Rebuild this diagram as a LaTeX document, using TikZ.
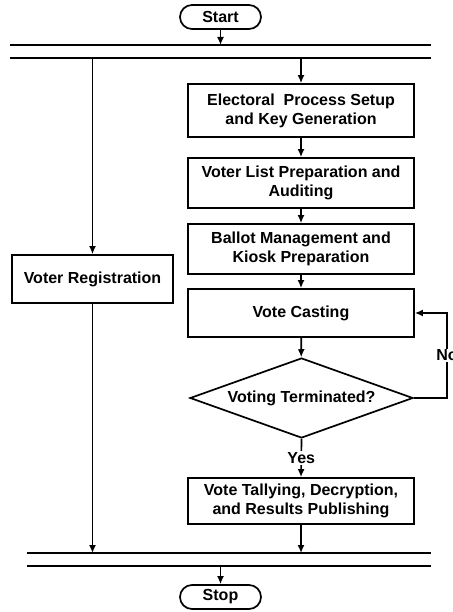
\documentclass[tikz,border=0pt]{standalone}
\usepackage{fontspec}
\setmainfont{Liberation Sans}
\usetikzlibrary{arrows.meta,shapes.geometric}
\begin{document}
\begin{tikzpicture}[x=1pt,y=-1pt,
  font=\fontsize{16}{19}\selectfont\bfseries,
  line width=1.7pt,
  flow/.style={-{Latex[length=8pt,width=7pt]}},
  stepbox/.style={draw,rectangle,align=center,inner sep=2pt,minimum width=226pt},
  terminal/.style={draw,rectangle,rounded corners=12pt,minimum width=81pt,minimum height=24pt,inner sep=0pt},
  decision/.style={draw,diamond,aspect=2.8,minimum width=223pt,minimum height=80pt,inner sep=0pt},
  bar/.style={line width=1.9pt},
  lbl/.style={fill=white,inner sep=1pt}]
\useasboundingbox (0,0) rectangle (452,612);
\clip (0,0) rectangle (452,612);

% terminals
\node[terminal] (start) at (220.5,17) {Start};
\node[terminal] (stop) at (220.5,597) {Stop};

% fork and join bars
\coordinate (f1l) at (10,45);  \coordinate (f1r) at (431,45);
\coordinate (f2l) at (10,58);  \coordinate (f2r) at (431,58);
\coordinate (j1l) at (27,553); \coordinate (j1r) at (431,553);
\coordinate (j2l) at (27,566); \coordinate (j2r) at (431,566);
\draw[bar] (f1l) -- (f1r);
\draw[bar] (f2l) -- (f2r);
\draw[bar] (j1l) -- (j1r);
\draw[bar] (j2l) -- (j2r);

% left branch
\node[stepbox,minimum width=161pt,minimum height=48pt] (reg) at (92.5,279) {Voter Registration};

% right branch
\node[stepbox,minimum height=53pt] (setup) at (301,110.5) {Electoral\ \ Process Setup\\and Key Generation};
\node[stepbox,minimum height=50pt] (list) at (301,183) {Voter List Preparation and\\Auditing};
\node[stepbox,minimum height=50pt] (ballot) at (301,249) {Ballot Management and\\Kiosk Preparation};
\node[stepbox,minimum height=48pt] (cast) at (301,313) {Vote Casting};
\node[decision] (term) at (301.5,398) {Voting Terminated?};
\node[stepbox,minimum height=46pt] (tally) at (301,501) {Vote Tallying, Decryption,\\and Results Publishing};

% loop-back corner
\coordinate (loopb) at (447,398);
\coordinate (loopt) at (447,313);

% connectors
\draw[flow] (start.south) -- (start.south |- f1l);
\draw[flow] (reg.north |- f2l) -- (reg.north);
\draw[flow] (reg.south) -- (reg.south |- j1l);
\draw[flow] (setup.north |- f2l) -- (setup.north);
\draw[flow] (setup) -- (list);
\draw[flow] (list) -- (ballot);
\draw[flow] (ballot) -- (cast);
\draw[flow] (cast) -- (term);
\draw[flow] (term.east) -- (loopb) -- node[lbl,pos=0.5] {No} (loopt) -- (cast.east);
\draw[flow] (term.south) -- node[lbl,pos=0.5] {Yes} (tally.north);
\draw[flow] (tally.south) -- (tally.south |- j1l);
\draw[flow] (stop.north |- j2l) -- (stop.north);
\end{tikzpicture}
\end{document}
